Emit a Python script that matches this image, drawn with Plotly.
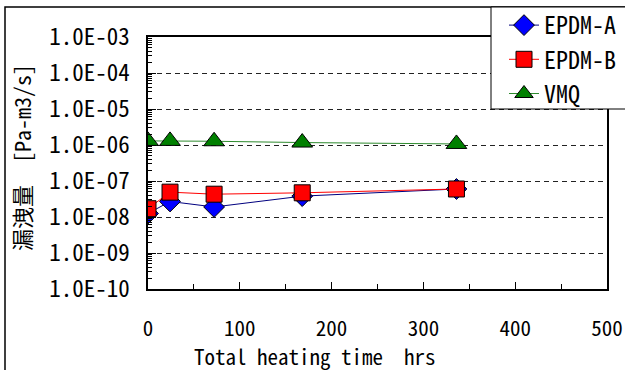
import plotly.graph_objects as go

hours = [0, 24, 72, 168, 336]
epdm_a = [1.25e-8, 2.7e-8, 1.9e-8, 3.8e-8, 6.0e-8]
epdm_b = [1.7e-8, 4.9e-8, 4.3e-8, 4.7e-8, 6.0e-8]
vmq = [1.3e-6, 1.3e-6, 1.27e-6, 1.17e-6, 1.07e-6]

y_tickvals = [1e-3, 1e-4, 1e-5, 1e-6, 1e-7, 1e-8, 1e-9, 1e-10]
y_ticktext = ["1.0E-03", "1.0E-04", "1.0E-05", "1.0E-06", "1.0E-07", "1.0E-08", "1.0E-09", "1.0E-10"]
x_tickvals = [0, 100, 200, 300, 400, 500]
y_title = "漏洩量　[Pa-m3/s]"
x_title = "Total heating time　hrs"

FONT = "Noto Sans Mono CJK JP, DejaVu Sans Mono, monospace"

minor_y = [m * 10 ** e for e in range(-10, -3) for m in range(2, 10)]

fig = go.Figure()
fig.add_trace(go.Scatter(x=hours, y=epdm_a, name="EPDM-A", mode="lines+markers",
                         line=dict(color="#00007f", width=1),
                         marker=dict(symbol="diamond", size=16, color="#0000ff",
                                     line=dict(color="#000000", width=1))))
fig.add_trace(go.Scatter(x=hours, y=epdm_b, name="EPDM-B", mode="lines+markers",
                         line=dict(color="#ff0000", width=1),
                         marker=dict(symbol="square", size=16, color="#ff0000",
                                     line=dict(color="#000000", width=1))))
fig.add_trace(go.Scatter(x=hours, y=vmq, name="VMQ", mode="lines+markers",
                         line=dict(color="#2e8b2e", width=1),
                         marker=dict(symbol="triangle-up", size=18, color="#008000",
                                     line=dict(color="#000000", width=1))))

W, H = 625, 370
L, R, T, B = 148, 18, 37, 81
pw, ph = W - L - R, H - T - B

def px(xp):
    return (xp - L) / pw

def py(yp):
    return (H - B - yp) / ph

fig.update_layout(
    width=W, height=H,
    margin=dict(l=L, r=R, t=T, b=B, autoexpand=False),
    paper_bgcolor="white", plot_bgcolor="white",
    font=dict(family=FONT, size=20, color="black"),
    showlegend=True,
    legend=dict(x=px(504), y=py(3), xanchor="left", yanchor="top",
                borderwidth=0, bgcolor="rgba(0,0,0,0)",
                font=dict(family=FONT, size=24), tracegroupgap=0),
    xaxis=dict(range=[0, 500], tickvals=x_tickvals, ticks="inside", ticklen=7,
               tickcolor="black", showline=True, linecolor="black", linewidth=1.5,
               mirror=True, showgrid=False, zeroline=False, automargin=False,
               tickfont=dict(family=FONT, size=21), ticklabelstandoff=20,
               minor=dict(tickvals=[50, 150, 250, 350, 450], ticks="inside", ticklen=5,
                          tickcolor="black")),
    yaxis=dict(type="log", range=[-10, -3], tickvals=y_tickvals, ticktext=y_ticktext,
               ticks="inside", ticklen=8, tickcolor="black",
               showline=True, linecolor="black", linewidth=1.5, mirror=True,
               showgrid=True, gridcolor="#222222", gridwidth=1, griddash="5px,4px",
               zeroline=False, automargin=False,
               tickfont=dict(family=FONT, size=23), ticklabelstandoff=12,
               minor=dict(tickvals=minor_y, ticks="inside", ticklen=4, tickcolor="black",
                          showgrid=False)),
    shapes=[
        dict(type="rect", xref="paper", yref="paper", x0=px(5), x1=px(640),
             y0=py(380), y1=py(7), line=dict(color="black", width=1.5),
             fillcolor="rgba(0,0,0,0)", layer="below"),
        dict(type="rect", xref="paper", yref="paper", x0=px(491), x1=px(640),
             y0=py(109), y1=py(7), line=dict(color="black", width=1),
             fillcolor="white", layer="above"),
    ],
    annotations=[
        dict(text=y_title, xref="paper", yref="paper", x=px(21), y=py(158),
             textangle=-90, showarrow=False, font=dict(family=FONT, size=22),
             xanchor="center", yanchor="middle"),
        dict(text=x_title, xref="paper", yref="paper", x=px(315), y=py(356),
             showarrow=False, font=dict(family=FONT, size=21),
             xanchor="center", yanchor="middle"),
    ],
)

fig.write_html("out.html", config={"displayModeBar": False},
               post_script="document.body.style.margin='0';document.body.style.padding='0';")
